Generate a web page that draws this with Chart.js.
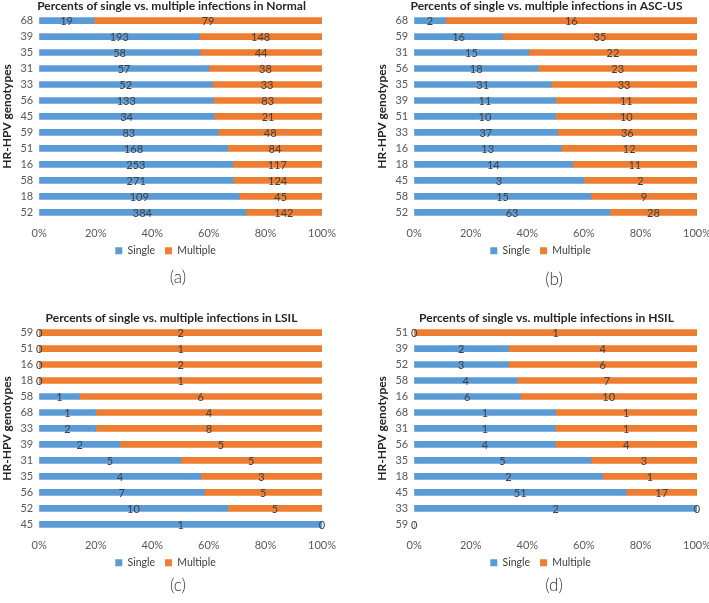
<!DOCTYPE html>
<html>
<head>
<meta charset="utf-8">
<script src="https://cdn.jsdelivr.net/npm/chart.js@4.4.1/dist/chart.umd.min.js"></script>
<style>
  body { margin: 0; background: #fff; width: 709px; height: 603px; position: relative; overflow: hidden; }
  canvas { position: absolute; }
  .cap { position: absolute; width: 60px; text-align: center; font-family: Lato, sans-serif; font-weight: 300; font-size: 17px; color: #333; }
</style>
</head>
<body>
<canvas id="chartA" width="343" height="278" style="left:0;top:0"></canvas>
<canvas id="chartB" width="343" height="278" style="left:375px;top:0"></canvas>
<canvas id="chartC" width="343" height="278" style="left:0;top:312px"></canvas>
<canvas id="chartD" width="343" height="278" style="left:375px;top:312px"></canvas>
<div class="cap" style="left:148px;top:266px">(a)</div>
<div class="cap" style="left:524px;top:268px">(b)</div>
<div class="cap" style="left:148px;top:574px">(c)</div>
<div class="cap" style="left:524px;top:574px">(d)</div>
<script>
// counts, top row first
const normalCats = ['68', '39', '35', '31', '33', '56', '45', '59', '51', '16', '58', '18', '52']
const normalSingle = [19, 193, 58, 57, 52, 133, 34, 83, 168, 253, 271, 109, 384]
const normalMultiple = [79, 148, 44, 38, 33, 83, 21, 48, 84, 117, 124, 45, 142]

const ascusCats = ['68', '59', '31', '56', '35', '39', '51', '33', '16', '18', '45', '58', '52']
const ascusSingle = [2, 16, 15, 18, 31, 11, 10, 37, 13, 14, 3, 15, 63]
const ascusMultiple = [16, 35, 22, 23, 33, 11, 10, 36, 12, 11, 2, 9, 28]

const lsilCats = ['59', '51', '16', '18', '58', '68', '33', '39', '31', '35', '56', '52', '45']
const lsilSingle = [0, 0, 0, 0, 1, 1, 2, 2, 5, 4, 7, 10, 1]
const lsilMultiple = [2, 1, 2, 1, 6, 4, 8, 5, 5, 3, 5, 5, 0]

const hsilCats = ['51', '39', '52', '58', '16', '68', '31', '56', '35', '18', '45', '33', '59']
const hsilSingle = [0, 2, 3, 4, 6, 1, 1, 4, 5, 2, 51, 2, 0]
const hsilMultiple = [1, 4, 6, 7, 10, 1, 1, 4, 3, 1, 17, 0, null]

const xTicks = [0, 20, 40, 60, 80, 100]

const blue = '#5B9BD5'
const orange = '#ED7D31'
const font = 'Lato, sans-serif'

// writes the raw count in the middle of each bar piece
const countLabels = {
  id: 'countLabels',
  afterDatasetsDraw(chart) {
    const ctx = chart.ctx
    ctx.save()
    ctx.font = '11px ' + font
    ctx.fillStyle = '#404040'
    ctx.textAlign = 'center'
    ctx.textBaseline = 'middle'
    chart.data.datasets.forEach((ds, i) => {
      chart.getDatasetMeta(i).data.forEach((bar, j) => {
        const n = ds.counts[j]
        if (n === null || n === undefined) return
        const p = bar.getProps(['x', 'y', 'base'], true)
        ctx.fillText(String(n), (p.x + p.base) / 2, p.y + 1)
      })
    })
    ctx.restore()
  }
}

// legend sits tight under the tick labels, a bit left of centre, like the excel original
const liftLegend = {
  id: 'liftLegend',
  afterLayout(chart) {
    const lg = chart.legend
    lg.top -= 12
    lg.bottom -= 12
    lg.left -= 6
    lg.right -= 6
  }
}

const pct = (a, b) => a.map((v, i) => {
  const tot = v + (b[i] || 0)
  return tot ? v / tot * 100 : 0
})

const makeChart = (id, title, cats, single, multiple) => {
  new Chart(document.getElementById(id), {
    type: 'bar',
    data: {
      labels: cats,
      datasets: [
        { label: 'Single', data: pct(single, multiple), counts: single, backgroundColor: blue },
        { label: 'Multiple', data: pct(multiple, single), counts: multiple, backgroundColor: orange }
      ]
    },
    options: {
      indexAxis: 'y',
      responsive: false,
      animation: false,
      barThickness: 6,
      layout: { padding: { left: 0, right: 0, top: 0, bottom: 0 } },
      plugins: {
        title: {
          display: true, text: title, color: '#262626',
          font: { family: font, size: 12, weight: 'bold', lineHeight: 1 },
          padding: { top: 0, bottom: 0 }
        },
        legend: {
          position: 'bottom',
          labels: { boxWidth: 7, boxHeight: 7, padding: 10, color: '#404040', font: { family: font, size: 10.5 } }
        },
        tooltip: { enabled: false }
      },
      scales: {
        x: {
          stacked: true, min: 0, max: 100,
          afterBuildTicks: (ax) => { ax.ticks = xTicks.map(v => ({ value: v })) },
          ticks: { callback: v => v + '%', color: '#595959', font: { family: font, size: 11 }, maxRotation: 0, padding: 7 },
          grid: { display: false, drawTicks: false }, border: { display: false }
        },
        y: {
          stacked: true,
          ticks: { autoSkip: false, color: '#595959', font: { family: font, size: 11 }, padding: 6 },
          grid: { display: false, drawTicks: false }, border: { display: false },
          title: { display: true, text: 'HR-HPV genotypes', color: '#262626', font: { family: font, size: 12, weight: 'bold' }, padding: 0 }
        }
      }
    },
    plugins: [countLabels, liftLegend]
  })
}

makeChart('chartA', 'Percents of single vs. multiple infections in Normal', normalCats, normalSingle, normalMultiple)
makeChart('chartB', 'Percents of single vs. multiple infections in ASC-US', ascusCats, ascusSingle, ascusMultiple)
makeChart('chartC', 'Percents of single vs. multiple infections in LSIL', lsilCats, lsilSingle, lsilMultiple)
makeChart('chartD', 'Percents of single vs. multiple infections in HSIL', hsilCats, hsilSingle, hsilMultiple)
</script>
</body>
</html>
